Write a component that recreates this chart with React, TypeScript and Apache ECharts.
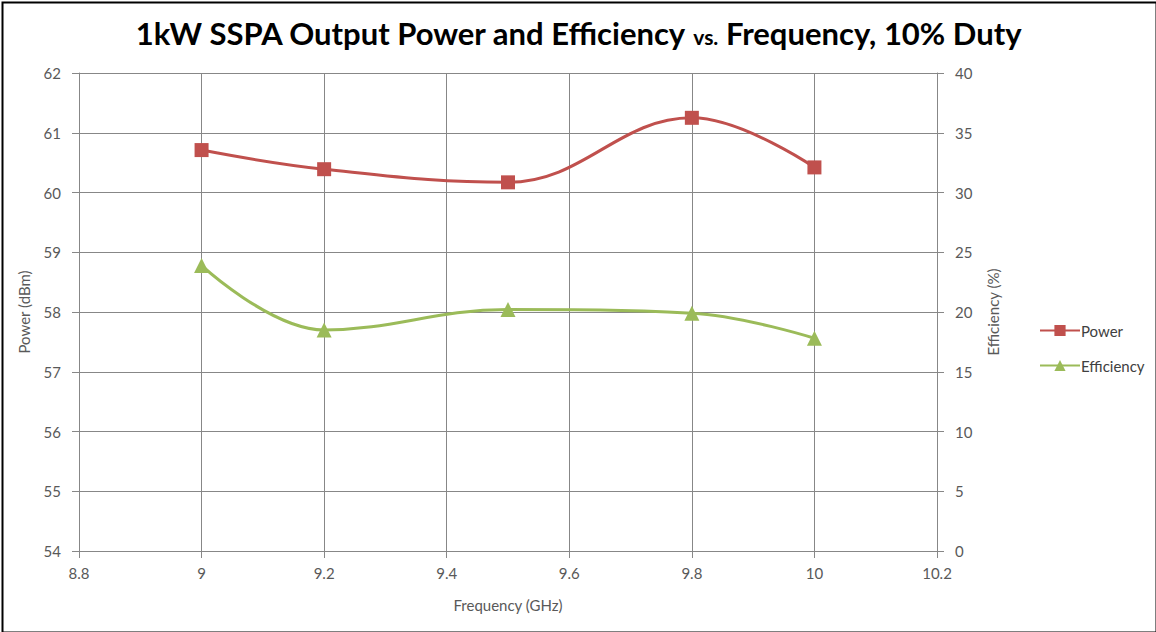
import React, { useEffect, useRef } from "react";
import * as echarts from "echarts";

const frequencies = [9, 9.2, 9.5, 9.8, 10];
const powerDbm = [60.71, 60.39, 60.17, 61.25, 60.42];
const efficiencyPct = [23.9, 18.5, 20.2, 19.9, 17.8];

const FONT = "Lato, 'Open Sans', sans-serif";
const GRAY = "#878787";
const LABEL = "#595959";

export default function App() {
  const ref = useRef<HTMLDivElement>(null);
  useEffect(() => {
    const chart = echarts.init(ref.current!, null, { renderer: "svg" });
    const fmt1 = (v: number) => String(Math.round(v * 10) / 10);
    chart.setOption({
      animation: false,
      backgroundColor: "#ffffff",
      textStyle: { fontFamily: FONT },
      title: {
        text: "1kW SSPA Output Power and Efficiency {s|vs.} Frequency, 10% Duty",
        left: "center",
        top: 12,
        textStyle: {
          fontFamily: FONT,
          fontSize: 31,
          fontWeight: "bold",
          color: "#000000",
          rich: {
            s: { fontFamily: FONT, fontSize: 21, fontWeight: "bold", color: "#000000", padding: [7, 0, 0, 0] },
          },
        },
      },
      graphic: [
        {
          type: "rect",
          left: 0,
          top: 0,
          shape: { x: 1, y: 1, width: 1154, height: 630 },
          style: { fill: "none", stroke: "#000000", lineWidth: 2 },
          silent: true,
        },
      ],
      legend: {
        orient: "vertical",
        left: 1034,
        top: 318,
        itemGap: 20,
        itemWidth: 40,
        itemHeight: 14,
        textStyle: { fontFamily: FONT, fontSize: 15, color: "#404040", padding: [0, 0, 0, -4] },
        data: ["Power", "Efficiency"],
      },
      grid: { left: 79, right: 219, top: 73, bottom: 81 },
      xAxis: {
        type: "value",
        min: 8.8,
        max: 10.2,
        interval: 0.2,
        name: "Frequency (GHz)",
        nameLocation: "middle",
        nameGap: 46,
        nameTextStyle: { fontFamily: FONT, fontSize: 15, color: LABEL },
        axisLine: { show: true, lineStyle: { color: GRAY, width: 1 } },
        axisTick: { show: true, length: 7, lineStyle: { color: GRAY } },
        axisLabel: { formatter: fmt1, fontFamily: FONT, fontSize: 15, color: LABEL, margin: 14 },
        splitLine: { show: true, lineStyle: { color: GRAY, width: 1 } },
      },
      yAxis: [
        {
          type: "value",
          min: 54,
          max: 62,
          interval: 1,
          name: "Power (dBm)",
          nameLocation: "middle",
          nameGap: 48,
          nameTextStyle: { fontFamily: FONT, fontSize: 15, color: LABEL },
          axisLine: { show: true, lineStyle: { color: GRAY, width: 1 } },
          axisTick: { show: true, length: 7, lineStyle: { color: GRAY } },
          axisLabel: { fontFamily: FONT, fontSize: 15, color: LABEL, margin: 18 },
          splitLine: { show: true, lineStyle: { color: GRAY, width: 1 } },
        },
        {
          type: "value",
          min: 0,
          max: 40,
          interval: 5,
          name: "Efficiency (%)",
          nameLocation: "middle",
          nameGap: 48,
          nameRotate: 90,
          nameTextStyle: { fontFamily: FONT, fontSize: 15, color: LABEL },
          axisLine: { show: true, lineStyle: { color: GRAY, width: 1 } },
          axisTick: { show: true, length: 7, lineStyle: { color: GRAY } },
          axisLabel: { fontFamily: FONT, fontSize: 15, color: LABEL, margin: 18 },
          splitLine: { show: false },
        },
      ],
      series: [
        {
          name: "Power",
          type: "line",
          yAxisIndex: 0,
          smooth: 0.4,
          symbol: "rect",
          symbolSize: 14,
          data: frequencies.map((f, i) => [f, powerDbm[i]]),
          lineStyle: { color: "#C0504D", width: 3 },
          itemStyle: { color: "#C0504D" },
        },
        {
          name: "Efficiency",
          type: "line",
          yAxisIndex: 1,
          smooth: 0.4,
          symbol: "triangle",
          symbolSize: 15,
          data: frequencies.map((f, i) => [f, efficiencyPct[i]]),
          lineStyle: { color: "#9BBB59", width: 3 },
          itemStyle: { color: "#9BBB59" },
        },
      ],
    });
    return () => chart.dispose();
  }, []);
  return (
    <div
      ref={ref}
      style={{ position: "fixed", left: 0, top: 0, width: 1156, height: 632 }}
    />
  );
}
